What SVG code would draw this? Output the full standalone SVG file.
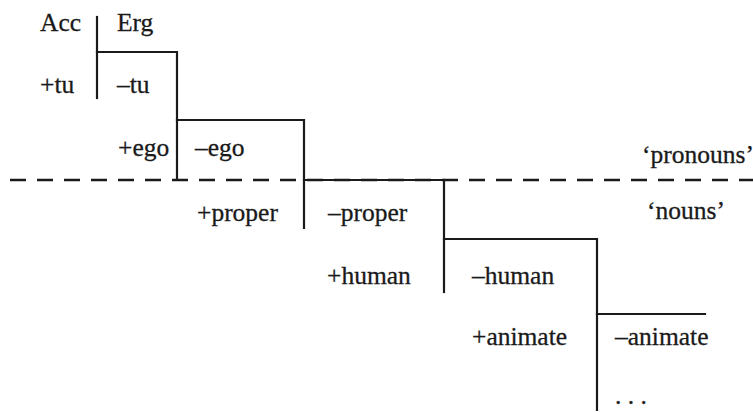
<svg xmlns="http://www.w3.org/2000/svg" width="753" height="412" viewBox="0 0 753 412">
<style>
text { font-family: 'Liberation Serif', 'Times New Roman', serif; font-size: 25.5px; fill: #1a1a1a; stroke: #1a1a1a; stroke-width: 0.3; }
.ln { stroke: #1a1a1a; stroke-width: 2.2; fill: none; stroke-linecap: square; }
.dash { stroke: #1a1a1a; stroke-width: 2.5; fill: none; stroke-dasharray: 16 11; }
</style>
<rect width="753" height="412" fill="#ffffff"/>
<g id="connectors">
<line class="dash" x1="10" y1="180" x2="753" y2="180"/>
<polyline class="ln" points="97,17 97,98"/>
<polyline class="ln" points="97,52 177,52 177,180"/>
<polyline class="ln" points="177,120 304,120 304,228"/>
<polyline class="ln" points="304,180 452,180"/>
<polyline class="ln" points="444,180 444,292"/>
<polyline class="ln" points="444,239 597,239 597,410"/>
<polyline class="ln" points="597,314 705,314"/>
</g>
<g id="n-case">
<text x="40" y="31">Acc</text>
<text x="117" y="31">Erg</text>
</g>
<g id="n-tu">
<text x="40" y="93">+tu</text>
<text x="117" y="93">–tu</text>
</g>
<g id="n-ego">
<text x="118" y="156">+ego</text>
<text x="195" y="156">–ego</text>
</g>
<g id="n-proper">
<text x="197" y="221">+proper</text>
<text x="328" y="221">–proper</text>
</g>
<g id="n-human">
<text x="327" y="284">+human</text>
<text x="472" y="284">–human</text>
</g>
<g id="n-animate">
<text x="472" y="345">+animate</text>
<text x="615" y="345">–animate</text>
</g>
<g id="n-more">
<text x="615" y="404">. . .</text>
</g>
<g id="n-classes">
<text x="642" y="163">‘pronouns’</text>
<text x="647" y="219">‘nouns’</text>
</g>
</svg>
